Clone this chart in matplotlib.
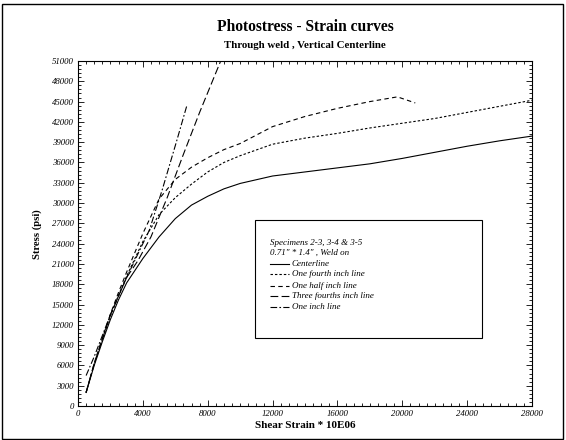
import matplotlib
matplotlib.use("Agg")
import matplotlib.pyplot as plt
from matplotlib.ticker import MultipleLocator
from matplotlib.patches import Rectangle

# ---- data ----
x_center = [500, 1000, 1500, 2000, 2500, 3000, 4000, 5000, 6000, 7000, 8000, 9000,
            10000, 12000, 14000, 16000, 18000, 20000, 22000, 24000, 26000, 28000]
y_center = [2000, 6000, 9500, 12800, 15700, 18200, 21800, 25000, 27700, 29700, 31000,
            32100, 32900, 34000, 34600, 35200, 35800, 36600, 37500, 38400, 39200, 39900]

x_fourth = [500, 1000, 1500, 2000, 2500, 3000, 4000, 5000, 6000, 7000, 8000, 9000,
            10000, 12000, 14000, 16000, 18000, 20000, 22000, 24000, 26000, 28000]
y_fourth = [2000, 6200, 9800, 13300, 16400, 19200, 24300, 28300, 30800, 32800, 34600,
            36000, 37000, 38700, 39600, 40300, 41100, 41800, 42500, 43400, 44300, 45200]

x_half = [500, 1000, 1500, 2000, 2500, 3000, 4000, 5000, 6000, 7000, 8000, 9000,
          10000, 12000, 14000, 16000, 18000, 19700, 20800]
y_half = [2000, 6300, 10000, 13600, 16800, 19800, 25500, 30600, 33500, 35300, 36700,
          37900, 38800, 41300, 42800, 44000, 45000, 45700, 44800]

x_three = [500, 1000, 2000, 3000, 3700, 4500, 5500, 6500, 7500, 8800]
y_three = [2000, 6300, 13500, 19000, 21500, 25000, 30800, 37200, 43400, 51000]

x_inch = [500, 1000, 2000, 3000, 3600, 4400, 5200, 6100, 6700]
y_inch = [4500, 7300, 13500, 19000, 22000, 26000, 32000, 39300, 44300]

series_labels = ["Centerline", "One fourth inch line", "One half inch line",
                 "Three fourths inch line", "One inch line"]
legend_header = ["Specimens 2-3, 3-4 & 3-5", "0.71\" * 1.4\" , Weld on"]

title = "Photostress - Strain curves"
subtitle = "Through weld , Vertical Centerline"
xlabel = "Shear Strain * 10E06"
ylabel = "Stress (psi)"

# ---- figure ----
W, H = 566, 440
fig = plt.figure(figsize=(W / 100, H / 100), dpi=100)
serif = "Liberation Serif"

L, R, T, B = 78, 532, 61, 406
ax = fig.add_axes([L / W, 1 - B / H, (R - L) / W, (B - T) / H])

styles = [
    dict(linestyle="-"),
    dict(linestyle=(0, (2.2, 1.8))),
    dict(linestyle=(0, (4.0, 3.0))),
    dict(linestyle=(0, (7.0, 3.0))),
    dict(linestyle=(0, (6.0, 2.0, 1.5, 2.0))),
]
data = [(x_center, y_center), (x_fourth, y_fourth), (x_half, y_half),
        (x_three, y_three), (x_inch, y_inch)]
for (xs, ys), st in zip(data, styles):
    ax.plot(xs, ys, color="black", lw=0.8, **st)

ax.set_xlim(0, 28000)
ax.set_ylim(0, 51000)
ax.xaxis.set_major_locator(MultipleLocator(4000))
ax.xaxis.set_minor_locator(MultipleLocator(500))
ax.yaxis.set_major_locator(MultipleLocator(3000))
ax.yaxis.set_minor_locator(MultipleLocator(600))
ax.tick_params(which="both", direction="in", top=True, right=True, width=0.6)
ax.tick_params(which="major", length=4, pad=3)
ax.tick_params(which="minor", length=2)
for lab in ax.get_xticklabels() + ax.get_yticklabels():
    lab.set_fontfamily(serif)
    lab.set_fontstyle("italic")
    lab.set_fontsize(6.3)
for s in ax.spines.values():
    s.set_linewidth(0.8)

cx = (L + R) / 2 / W
# titles / labels
fig.text(cx, 1 - 27 / H, title, ha="center", va="center", family=serif,
         fontweight="bold", fontsize=11.2)
fig.text(cx, 1 - 46 / H, subtitle, ha="center", va="center", family=serif,
         fontweight="bold", fontsize=7.8)
fig.text(cx, 1 - 425 / H, xlabel, ha="center", va="center", family=serif,
         fontweight="bold", fontsize=8)
fig.text(37 / W, 1 - 234 / H, ylabel, ha="center", va="center", rotation=90,
         family=serif, fontweight="bold", fontsize=7.7)

# legend box (manual, axes coordinates)
def fx(px):
    return (px - L) / (R - L)

def fy(py):
    return (B - py) / (B - T)

ax.add_patch(Rectangle((fx(255), fy(338)), fx(482) - fx(255), fy(220) - fy(338),
                       transform=ax.transAxes, fill=True, facecolor="white",
                       edgecolor="black", lw=0.8, zorder=5))
for txt, py in zip(legend_header, [243, 253]):
    ax.text(fx(270), fy(py), txt, transform=ax.transAxes, ha="left", va="center",
            family=serif, style="italic", fontsize=6.5, zorder=6)
for lbl, st, py in zip(series_labels, styles, [264, 274, 286, 296, 307]):
    ax.plot([fx(270), fx(289)], [fy(py), fy(py)], transform=ax.transAxes,
            color="black", lw=0.8, zorder=6, **st)
    ax.text(fx(292), fy(py), lbl, transform=ax.transAxes, ha="left", va="center",
            family=serif, style="italic", fontsize=6.5, zorder=6)

# outer frame
fig.patches.append(Rectangle((2 / W, 1 / H), 561 / W, (H - 5) / H,
                             transform=fig.transFigure, fill=False,
                             edgecolor="black", lw=1.0))

fig.savefig("out.png", dpi=100)
